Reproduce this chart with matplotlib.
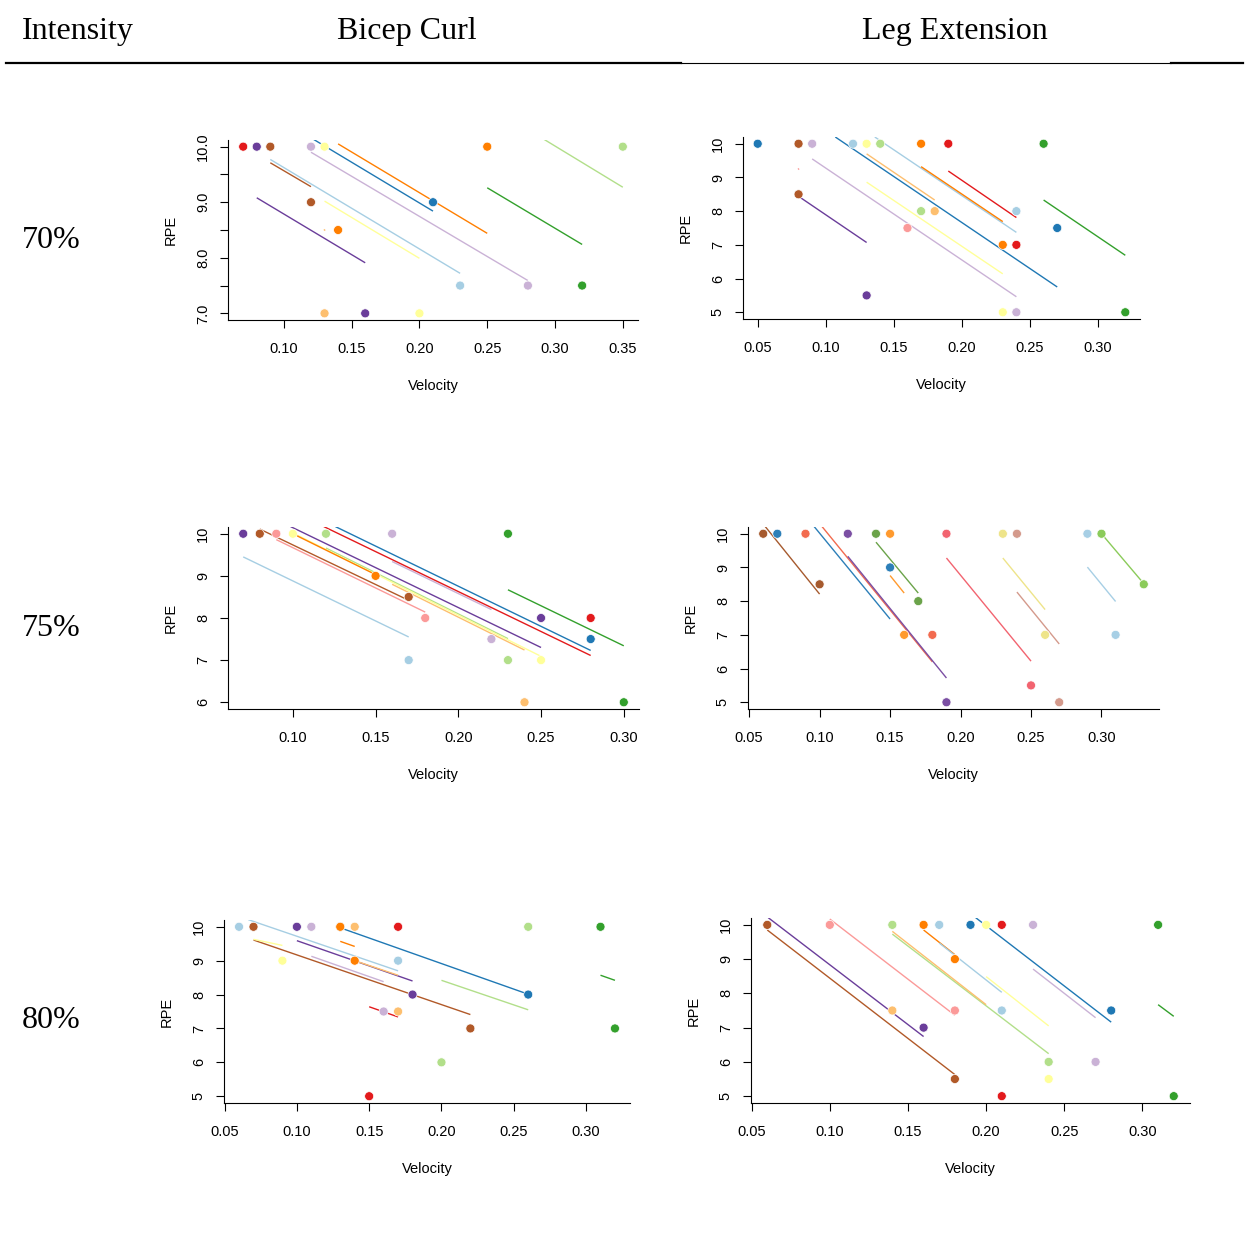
import matplotlib
matplotlib.use("Agg")
import matplotlib.pyplot as plt
from matplotlib.lines import Line2D
from matplotlib.transforms import ScaledTranslation

# Цвета испытуемых (палитра Paired)
paired = {'lb': '#A6CEE3', 'bl': '#1F78B4', 'lg': '#B2DF8A', 'gr': '#33A02C',
          'pk': '#FB9A99', 'rd': '#E31A1C', 'lo': '#FDBF6F', 'or': '#FF7F00',
          'lp': '#CAB2D6', 'pu': '#6A3D9A', 'ye': '#FFFF99', 'br': '#B15928'}
# в панели Leg Extension 75% другая палитра
ramp = {'br': '#A65A2E', 'bl': '#2C7FB8', 'tm': '#F26B4F', 'pu': '#7B4FA3',
        'dg': '#6BA34A', 'or': '#FF9A2E', 'sr': '#F26470', 'ye': '#EEE48A',
        'dr': '#D49A8C', 'lb': '#A7CFE5', 'lg': '#8BCB5A'}

# ---- Bicep Curl, 70% ----
p1_vel = [0.07, 0.08, 0.09, 0.12, 0.13, 0.25, 0.35, 0.12, 0.21, 0.14, 0.13, 0.16, 0.20, 0.23, 0.28, 0.32]
p1_rpe = [10, 10, 10, 10, 10, 10, 10, 9, 9, 8.5, 7, 7, 7, 7.5, 7.5, 7.5]
p1_col = ['rd', 'pu', 'br', 'lp', 'ye', 'or', 'lg', 'br', 'bl', 'or', 'lo', 'pu', 'ye', 'lb', 'lp', 'gr']
l1_col = ['lb', 'lp', 'ye', 'pu', 'br', 'bl', 'or', 'lg', 'gr', 'lo']
l1_x0 = [0.090, 0.120, 0.130, 0.080, 0.090, 0.122, 0.140, 0.292, 0.250, 0.1295]
l1_x1 = [0.230, 0.280, 0.200, 0.160, 0.120, 0.210, 0.250, 0.350, 0.320, 0.1305]
l1_y0 = [9.77, 9.90, 9.02, 9.08, 9.71, 10.13, 10.05, 10.13, 9.26, 8.51]
l1_y1 = [7.72, 7.59, 7.99, 7.91, 9.28, 8.84, 8.44, 9.27, 8.24, 8.49]

# ---- Leg Extension, 70% ----
p2_vel = [0.05, 0.08, 0.09, 0.12, 0.13, 0.14, 0.17, 0.19, 0.26, 0.08, 0.17, 0.18, 0.24, 0.16, 0.27,
          0.23, 0.24, 0.13, 0.23, 0.24, 0.32]
p2_rpe = [10, 10, 10, 10, 10, 10, 10, 10, 10, 8.5, 8, 8, 8, 7.5, 7.5, 7, 7, 5.5, 5, 5, 5]
p2_col = ['bl', 'br', 'lp', 'lb', 'ye', 'lg', 'or', 'rd', 'gr', 'br', 'lg', 'lo', 'lb', 'pk', 'bl',
          'or', 'rd', 'pu', 'ye', 'lp', 'gr']
l2_col = ['lp', 'ye', 'pu', 'bl', 'lb', 'lo', 'or', 'rd', 'gr', 'pk']
l2_x0 = [0.090, 0.130, 0.080, 0.107, 0.136, 0.130, 0.170, 0.190, 0.260, 0.0797]
l2_x1 = [0.240, 0.230, 0.130, 0.270, 0.240, 0.180, 0.230, 0.240, 0.320, 0.0803]
l2_y0 = [9.55, 8.86, 8.44, 10.20, 10.20, 9.70, 9.32, 9.19, 8.33, 9.27]
l2_y1 = [5.46, 6.14, 7.07, 5.75, 7.37, 8.33, 7.69, 7.81, 6.69, 9.23]

# ---- Bicep Curl, 75% ----
p3_vel = [0.07, 0.08, 0.09, 0.10, 0.12, 0.16, 0.23, 0.15, 0.17, 0.18, 0.25, 0.28, 0.22, 0.28, 0.17,
          0.23, 0.25, 0.24, 0.30]
p3_rpe = [10, 10, 10, 10, 10, 10, 10, 9, 8.5, 8, 8, 8, 7.5, 7.5, 7, 7, 7, 6, 6]
p3_col = ['pu', 'br', 'pk', 'ye', 'lg', 'lp', 'gr', 'or', 'br', 'pk', 'pu', 'rd', 'lp', 'bl', 'lb',
          'lg', 'ye', 'lo', 'gr']
l3_col = ['lb', 'pk', 'br', 'lg', 'lo', 'ye', 'or', 'lp', 'pu', 'rd', 'bl', 'gr']
l3_x0 = [0.070, 0.090, 0.080, 0.120, 0.160, 0.100, 0.100, 0.160, 0.0986, 0.1187, 0.1257, 0.230]
l3_x1 = [0.170, 0.180, 0.170, 0.230, 0.240, 0.250, 0.150, 0.220, 0.250, 0.280, 0.280, 0.300]
l3_y0 = [9.45, 9.86, 10.11, 9.66, 8.80, 10.02, 10.00, 9.34, 10.17, 10.17, 10.17, 8.67]
l3_y1 = [7.55, 8.14, 8.42, 7.51, 7.24, 7.09, 9.03, 8.20, 7.30, 7.11, 7.23, 7.34]

# ---- Leg Extension, 75% ----
p4_vel = [0.06, 0.07, 0.09, 0.12, 0.14, 0.15, 0.19, 0.23, 0.24, 0.29, 0.30, 0.15, 0.10, 0.33, 0.17,
          0.16, 0.18, 0.26, 0.31, 0.25, 0.19, 0.27]
p4_rpe = [10, 10, 10, 10, 10, 10, 10, 10, 10, 10, 10, 9, 8.5, 8.5, 8, 7, 7, 7, 7, 5.5, 5, 5]
p4_col = ['br', 'bl', 'tm', 'pu', 'dg', 'or', 'sr', 'ye', 'dr', 'lb', 'lg', 'bl', 'br', 'lg', 'dg',
          'or', 'tm', 'ye', 'lb', 'sr', 'pu', 'dr']
l4_col = ['br', 'bl', 'tm', 'pu', 'or', 'dg', 'sr', 'ye', 'dr', 'lb', 'lg']
l4_x0 = [0.0613, 0.096, 0.1016, 0.120, 0.150, 0.140, 0.190, 0.230, 0.240, 0.290, 0.300]
l4_x1 = [0.100, 0.150, 0.180, 0.190, 0.160, 0.170, 0.250, 0.260, 0.270, 0.310, 0.330]
l4_y0 = [10.22, 10.22, 10.22, 9.33, 8.76, 9.75, 9.28, 9.28, 8.27, 9.01, 10.00]
l4_y1 = [8.21, 7.47, 6.20, 5.72, 8.24, 8.24, 6.22, 7.75, 6.73, 7.99, 8.52]

# ---- Bicep Curl, 80% ----
p5_vel = [0.06, 0.07, 0.10, 0.11, 0.13, 0.13, 0.14, 0.17, 0.26, 0.31, 0.09, 0.14, 0.17, 0.26, 0.18,
          0.16, 0.17, 0.22, 0.32, 0.20, 0.15]
p5_rpe = [10, 10, 10, 10, 10, 10, 10, 10, 10, 10, 9, 9, 9, 8, 8, 7.5, 7.5, 7, 7, 6, 5]
p5_col = ['lb', 'br', 'pu', 'lp', 'bl', 'or', 'lo', 'rd', 'lg', 'gr', 'ye', 'or', 'lb', 'bl', 'pu',
          'lp', 'lo', 'br', 'gr', 'lg', 'rd']
l5_col = ['lb', 'br', 'ye', 'pu', 'lp', 'or', 'lo', 'bl', 'rd', 'lg', 'gr']
l5_x0 = [0.0664, 0.070, 0.070, 0.100, 0.110, 0.130, 0.140, 0.130, 0.150, 0.200, 0.310]
l5_x1 = [0.170, 0.220, 0.090, 0.180, 0.160, 0.140, 0.170, 0.260, 0.170, 0.260, 0.320]
l5_y0 = [10.21, 9.61, 9.63, 9.59, 9.13, 9.57, 9.00, 9.97, 7.64, 8.42, 8.57]
l5_y1 = [8.70, 7.41, 9.45, 8.40, 8.38, 9.42, 8.57, 8.01, 7.34, 7.55, 8.42]

# ---- Leg Extension, 80% ----
p6_vel = [0.06, 0.10, 0.14, 0.16, 0.17, 0.19, 0.20, 0.21, 0.23, 0.31, 0.18, 0.14, 0.18, 0.21, 0.28,
          0.16, 0.24, 0.27, 0.18, 0.24, 0.21, 0.32]
p6_rpe = [10, 10, 10, 10, 10, 10, 10, 10, 10, 10, 9, 7.5, 7.5, 7.5, 7.5, 7, 6, 6, 5.5, 5.5, 5, 5]
p6_col = ['br', 'pk', 'lg', 'or', 'lb', 'bl', 'ye', 'rd', 'lp', 'gr', 'or', 'lo', 'pk', 'lb', 'bl',
          'pu', 'lg', 'lp', 'br', 'ye', 'rd', 'gr']
l6_col = ['pu', 'br', 'pk', 'lg', 'lo', 'or', 'lb', 'ye', 'bl', 'lp', 'gr', 'rd']
l6_x0 = [0.0606, 0.060, 0.100, 0.140, 0.140, 0.160, 0.170, 0.200, 0.1933, 0.230, 0.310, 0.2095]
l6_x1 = [0.160, 0.180, 0.180, 0.240, 0.200, 0.180, 0.210, 0.240, 0.280, 0.270, 0.320, 0.2105]
l6_y0 = [10.21, 9.85, 10.17, 9.73, 9.81, 9.85, 9.47, 8.49, 10.21, 8.71, 7.67, 7.52]
l6_y1 = [6.74, 5.63, 7.36, 6.24, 7.67, 9.13, 8.03, 7.05, 7.16, 7.29, 7.33, 7.48]

exercises = ['Bicep Curl', 'Leg Extension']
intensities = ['70%', '75%', '80%']

vel_ticks_a = [0.10, 0.15, 0.20, 0.25, 0.30, 0.35]
vel_ticks_b = [0.10, 0.15, 0.20, 0.25, 0.30]
vel_ticks_c = [0.05, 0.10, 0.15, 0.20, 0.25, 0.30]

W, H = 1245, 1234
fig = plt.figure(figsize=(W / 100, H / 100), dpi=100)
sans = ['Liberation Sans', 'DejaVu Sans']
serif = ['Liberation Serif', 'DejaVu Serif']


def rect(x0, y0, x1, y1):
    return [x0 / W, 1 - y1 / H, (x1 - x0) / W, (y1 - y0) / H]


panels = [
    (rect(228, 140, 638, 320), p1_vel, p1_rpe, p1_col, l1_x0, l1_x1, l1_y0, l1_y1, l1_col, paired,
     vel_ticks_a, [7, 8, 9, 10], [7.5, 8.5, 9.5], '%.1f'),
    (rect(743, 137, 1140, 319), p2_vel, p2_rpe, p2_col, l2_x0, l2_x1, l2_y0, l2_y1, l2_col, paired,
     vel_ticks_c, [5, 6, 7, 8, 9, 10], [], '%d'),
    (rect(228, 527, 639, 709), p3_vel, p3_rpe, p3_col, l3_x0, l3_x1, l3_y0, l3_y1, l3_col, paired,
     vel_ticks_b, [6, 7, 8, 9, 10], [], '%d'),
    (rect(748, 527, 1159, 709), p4_vel, p4_rpe, p4_col, l4_x0, l4_x1, l4_y0, l4_y1, l4_col, ramp,
     vel_ticks_c, [5, 6, 7, 8, 9, 10], [], '%d'),
    (rect(224, 920, 630, 1103), p5_vel, p5_rpe, p5_col, l5_x0, l5_x1, l5_y0, l5_y1, l5_col, paired,
     vel_ticks_c, [5, 6, 7, 8, 9, 10], [], '%d'),
    (rect(751, 918, 1190, 1103), p6_vel, p6_rpe, p6_col, l6_x0, l6_x1, l6_y0, l6_y1, l6_col, paired,
     vel_ticks_c, [5, 6, 7, 8, 9, 10], [], '%d'),
]

for (pos, vx, vy, vc, x0, x1, y0, y1, lc, pal, xt, yt, ymin, yfmt) in panels:
    ax = fig.add_axes(pos)
    # линии регрессии по испытуемым
    for i in range(len(lc)):
        ax.plot([x0[i], x1[i]], [y0[i], y1[i]], color=pal[lc[i]], lw=1.0, zorder=2,
                solid_capstyle='butt')
    ax.scatter(vx, vy, c=[pal[k] for k in vc], s=42, edgecolors='white', linewidths=0.5,
               zorder=3, clip_on=False)
    # как в R: 4% запаса по диапазону точек
    dx = (max(vx) - min(vx)) * 0.04
    dy = (max(vy) - min(vy)) * 0.04
    ax.set_xlim(min(vx) - dx, max(vx) + dx)
    ax.set_ylim(min(vy) - dy, max(vy) + dy)
    ax.set_xticks(xt)
    ax.set_xticklabels(['%.2f' % t for t in xt])
    ax.set_yticks(yt)
    ax.set_yticklabels([yfmt % t for t in yt], rotation=90, va='center')
    ax.set_yticks(ymin, minor=True)
    for s in ['top', 'right']:
        ax.spines[s].set_visible(False)
    for s in ['left', 'bottom']:
        ax.spines[s].set_linewidth(0.8)
    ax.tick_params(which='both', direction='out', length=6, width=0.8, labelsize=10.5)
    ax.tick_params(axis='x', pad=10)
    ax.tick_params(axis='y', pad=7)
    for lab in ax.get_xticklabels() + ax.get_yticklabels():
        lab.set_family(sans)
    ax.set_xlabel('Velocity', fontsize=10.5, family=sans, va='center')
    ax.set_ylabel('RPE', fontsize=10.5, family=sans, va='center')
    ax.xaxis.set_label_coords(0.5, 0, transform=ax.transAxes +
                              ScaledTranslation(0, -0.66, fig.dpi_scale_trans))
    ax.yaxis.set_label_coords(0, 0.5, transform=ax.transAxes +
                              ScaledTranslation(-0.57, 0, fig.dpi_scale_trans))

# шапка таблицы
fig.text(22 / W, 1 - 31 / H, 'Intensity', fontsize=23, family=serif, ha='left', va='center')
fig.text(407 / W, 1 - 31 / H, exercises[0], fontsize=23, family=serif, ha='center', va='center')
fig.text(955 / W, 1 - 31 / H, exercises[1], fontsize=23, family=serif, ha='center', va='center')
for y, name in zip([240, 628, 1021], intensities):
    fig.text(22 / W, 1 - y / H, name, fontsize=23, family=serif, ha='left', va='center')

fig.add_artist(Line2D([6 / W, 681 / W], [1 - 63 / H, 1 - 63 / H], color='black', lw=1.6))
fig.add_artist(Line2D([681 / W, 1171 / W], [1 - 63 / H, 1 - 63 / H], color='black', lw=0.8))
fig.add_artist(Line2D([1171 / W, 1243 / W], [1 - 63 / H, 1 - 63 / H], color='black', lw=1.6))

fig.savefig('out.png', dpi=100, facecolor='white')
